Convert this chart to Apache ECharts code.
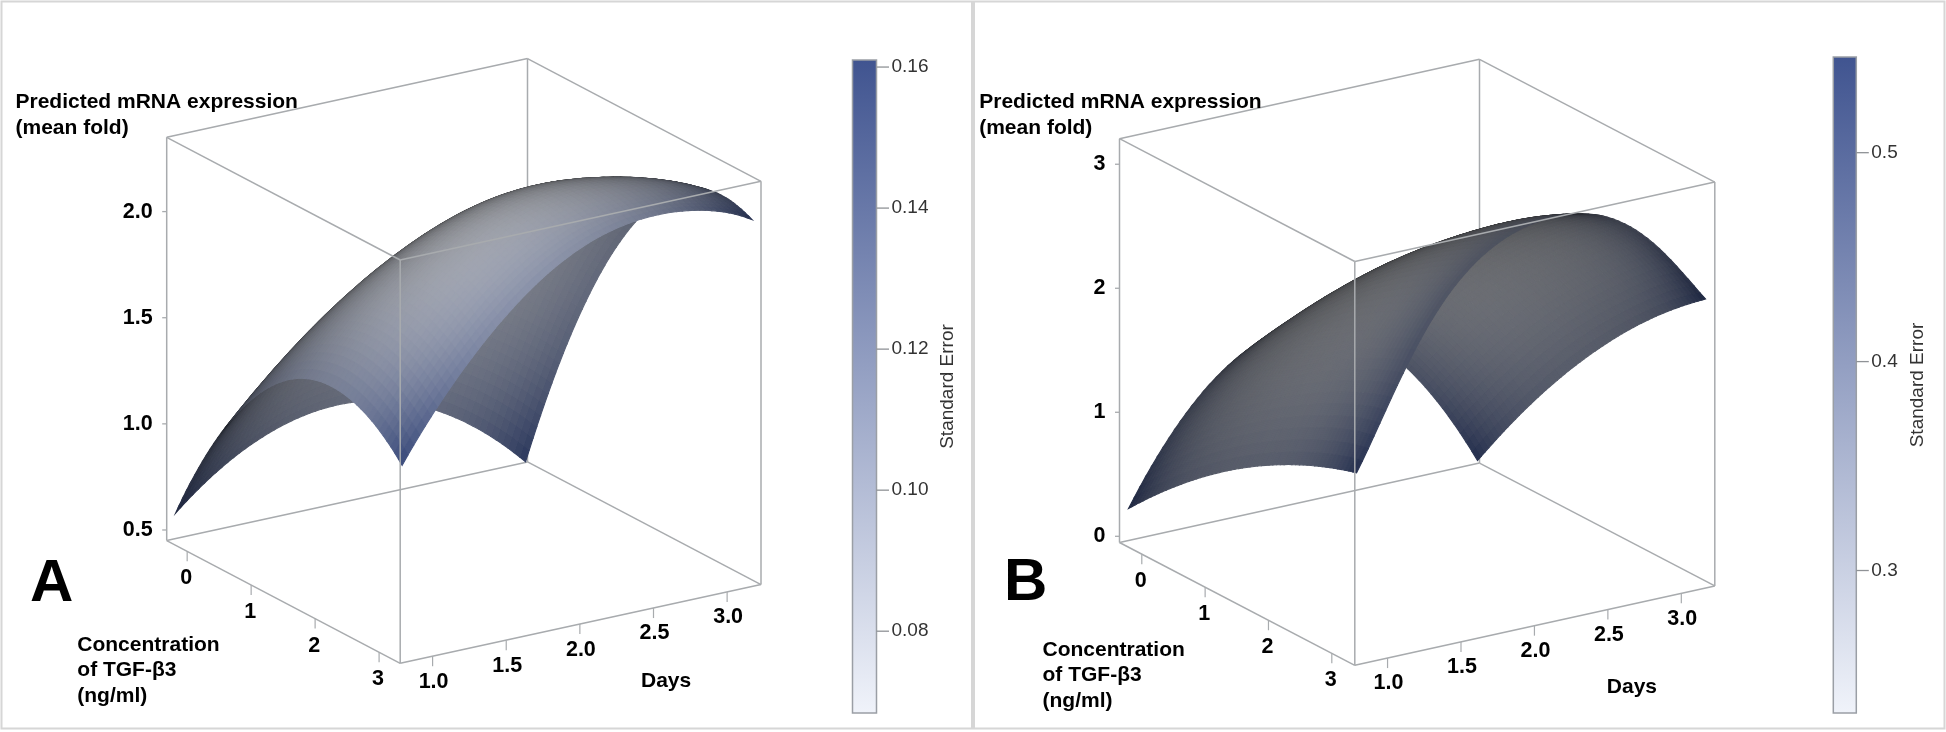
<!DOCTYPE html>
<html><head><meta charset="utf-8">
<style>html,body{margin:0;padding:0;background:#fff}#c{width:1946px;height:732px}</style>
<script src="https://cdn.jsdelivr.net/npm/echarts@6/dist/echarts.min.js"></script>
</head><body><div id="c"></div>
<script>
// ---------- data ----------
const concTicks=[0,1,2,3];
const dayTicks=[1.0,1.5,2.0,2.5,3.0];
const zTicksA=[0.5,1.0,1.5,2.0];
const zTicksB=[0,1,2,3];
const seTicksA=[0.08,0.10,0.12,0.14,0.16];
const seTicksB=[0.3,0.4,0.5];
const concGridA=[-0.265,0.325,0.915,1.505,2.095,2.685,3.275];
const dayGridA=[0.817,1.213,1.609,2.005,2.401,2.797,3.193];
const concGridB=[-0.295,0.300,0.895,1.505,2.100,2.700,3.305];
const dayGridB=[0.814,1.210,1.606,2.002,2.398,2.794,3.190];
// rows: day, columns: concentration
const mrnaA=[
[0.583,1.001,1.303,1.492,1.565,1.524,1.368],
[0.786,1.235,1.568,1.786,1.887,1.872,1.742],
[0.899,1.380,1.743,1.989,2.117,2.127,2.020],
[0.924,1.436,1.828,2.101,2.248,2.275,2.201],
[0.860,1.403,1.824,2.118,2.280,2.325,2.280],
[0.707,1.281,1.730,2.048,2.235,2.300,2.270],
[0.465,1.070,1.546,1.893,2.113,2.203,2.166]];
const mrnaB=[
[0.230,0.539,0.808,1.036,1.223,1.370,1.477],
[0.900,1.242,1.544,1.807,2.031,2.216,2.362],
[1.287,1.660,1.994,2.290,2.547,2.766,2.946],
[1.390,1.794,2.159,2.475,2.750,2.990,3.170],
[1.209,1.644,2.038,2.380,2.680,2.940,3.150],
[0.744,1.209,1.630,2.005,2.330,2.620,2.850],
[-0.004,0.490,0.938,1.338,1.692,1.998,2.258]];
const seA=[
[0.160,0.122,0.108,0.105,0.108,0.122,0.160],
[0.122,0.093,0.083,0.081,0.083,0.093,0.122],
[0.108,0.083,0.074,0.072,0.074,0.083,0.108],
[0.105,0.081,0.072,0.070,0.072,0.081,0.105],
[0.108,0.083,0.074,0.072,0.074,0.083,0.108],
[0.122,0.093,0.083,0.081,0.083,0.093,0.122],
[0.160,0.122,0.108,0.105,0.108,0.122,0.160]];
const seB=[
[0.545,0.411,0.364,0.354,0.364,0.411,0.545],
[0.411,0.313,0.278,0.271,0.278,0.313,0.411],
[0.364,0.278,0.248,0.242,0.248,0.278,0.364],
[0.354,0.271,0.242,0.236,0.242,0.271,0.354],
[0.364,0.278,0.248,0.242,0.248,0.278,0.364],
[0.411,0.313,0.278,0.271,0.278,0.313,0.411],
[0.545,0.411,0.364,0.354,0.364,0.411,0.545]];

// ---------- layout of the two panels ----------
const FONT='"Liberation Sans",Arial,sans-serif';
const GREY='#a8abae';
const panels=[
 {name:'A',mrna:mrnaA,se:seA,concGrid:concGridA,dayGrid:dayGridA,zTicks:zTicksA,seTicks:seTicksA,
  L:[166.7,540.6],F:[400.2,663.3],R:[761,584.6],top:137.3,
  c:[-0.32,3.33],d:[0.78,3.23],z:[0.45,2.35],
  bar:{x:852.5,w:24,top:60,h:653,min:0.0684,max:0.161,gap:62,fmt:2},bright:0.88,back:0.82},
 {name:'B',mrna:mrnaB,se:seB,concGrid:concGridB,dayGrid:dayGridB,zTicks:zTicksB,seTicks:seTicksB,
  L:[1119.5,542.5],F:[1354.8,665.3],R:[1714.8,585.9],top:138.7,
  c:[-0.352,3.363],d:[0.777,3.228],z:[-0.05,3.206],
  bar:{x:1833.3,w:23,top:57,h:656,min:0.2318,max:0.5458,gap:52,fmt:1},bright:0.68,back:0.95}
];
const COLOR_LOW=[240,243,250], COLOR_HIGH=[64,84,144];
const VIEW=[0.788,-0.513,0.344];   // direction to the viewer in the unit cube

function lagr(xs,x){ // weights of a smooth curve through the read values
  const n=xs.length,w=[];
  for(let i=0;i<n;i++){let p=1;for(let j=0;j<n;j++)if(j!==i)p*=(x-j)/(i-j);w.push(p);}
  return w;
}
function sample(tbl,cf,df){ // cf,df in 0..6
  const wc=lagr(tbl[0],cf),wd=lagr(tbl,df);let s=0;
  for(let j=0;j<7;j++)for(let i=0;i<7;i++)s+=tbl[j][i]*wd[j]*wc[i];
  return s;
}
const N=60;
const series=[],grids=[],xAxes=[],yAxes=[];
function lineSeries(idx,items,renderer,extra){
  return Object.assign({type:'custom',xAxisIndex:idx,yAxisIndex:idx,coordinateSystem:'cartesian2d',
    silent:true,animation:false,clip:false,progressive:0,data:items,renderItem:renderer,tooltip:{show:false}},extra||{});
}
panels.forEach((p,k)=>{
  const gi=k*2;
  const W=p.R[0]-p.L[0], Hh=p.L[1]-p.top;
  grids.push({left:p.L[0],top:p.top,width:W,height:Hh,containLabel:false});
  xAxes.push({type:'value',gridIndex:gi,min:0,max:1,show:false});
  yAxes.push({type:'value',gridIndex:gi,min:p.z[0],max:p.z[1],position:'left',
    axisLine:{show:false},splitLine:{show:false},axisTick:{show:false},
    axisLabel:{show:true,margin:14,customValues:p.zTicks,
      formatter:v=>(p.name==='A'?v.toFixed(1):String(Math.round(v))),
      fontFamily:FONT,fontWeight:'bold',fontSize:21.5,color:'#000'}});
  const zs=(p.z[1]-p.z[0])/Hh;   // data units of z per pixel
  const vecU=[p.F[0]-p.L[0],p.F[1]-p.L[1]], vecV=[p.R[0]-p.F[0],p.R[1]-p.F[1]];
  const proj=(c,d,z,api)=>{
    const u=(c-p.c[0])/(p.c[1]-p.c[0]), v=(d-p.d[0])/(p.d[1]-p.d[0]);
    return api.coord([(u*vecU[0]+v*vecV[0])/W, z-(u*vecU[1]+v*vecV[1])*zs]);
  };
  const [c0,c1]=p.c,[d0,d1]=p.d,[z0,z1]=p.z;
  const edgesBack=[[[c0,d0,z0],[c0,d1,z0]],[[c0,d1,z0],[c1,d1,z0]],[[c0,d1,z0],[c0,d1,z1]],
                   [[c0,d0,z1],[c0,d1,z1]],[[c0,d1,z1],[c1,d1,z1]],
                   [[c0,d0,z0],[c0,d0,z1]],[[c1,d1,z0],[c1,d1,z1]]];
  const edgesFront=[[[c0,d0,z0],[c1,d0,z0]],[[c1,d0,z0],[c1,d1,z0]],[[c1,d0,z0],[c1,d0,z1]],
                    [[c0,d0,z1],[c1,d0,z1]],[[c1,d0,z1],[c1,d1,z1]]];
  const edgeRender=list=>(params,api)=>{
    const e=list[params.dataIndex],a=proj(...e[0],api),b=proj(...e[1],api);
    return {type:'line',shape:{x1:a[0],y1:a[1],x2:b[0],y2:b[1]},style:{stroke:GREY,lineWidth:1.5}};
  };
  series.push(lineSeries(gi,edgesBack.map((e,i)=>[i]),edgeRender(edgesBack)));
  // vertical axis ticks
  series.push(lineSeries(gi,p.zTicks.map(t=>[t]),(params,api)=>{
    const q=api.coord([0,api.value(0)]);
    return {type:'line',shape:{x1:q[0]-4.5,y1:q[1],x2:q[0],y2:q[1]},style:{stroke:GREY,lineWidth:1.3}};
  }));
  // surface
  const cells=[];
  for(let ci=0;ci<N;ci++)for(let dj=N-1;dj>=0;dj--)cells.push([ci,dj]);
  const bar=p.bar;
  const verts=[];
  for(let i=0;i<=N;i++){verts.push([]);for(let j=0;j<=N;j++)verts[i].push({
      c:p.concGrid[0]+(p.concGrid[6]-p.concGrid[0])*i/N,
      d:p.dayGrid[0]+(p.dayGrid[6]-p.dayGrid[0])*j/N,
      z:sample(p.mrna,i*6/N,j*6/N)});}
  series.push(lineSeries(gi,cells,(params,api)=>{
    const ci=api.value(0),dj=api.value(1);
    const a=verts[ci][dj],b=verts[ci+1][dj],c=verts[ci+1][dj+1],d=verts[ci][dj+1];
    const pts=[a,b,c,d].map(q=>proj(q.c,q.d,q.z,api));
    const fu=((b.z+c.z-a.z-d.z)/2)/(z1-z0)*N*(c1-c0)/((p.concGrid[6]-p.concGrid[0]));
    const fv=((c.z+d.z-a.z-b.z)/2)/(z1-z0)*N*(d1-d0)/((p.dayGrid[6]-p.dayGrid[0]));
    const nn=Math.sqrt(fu*fu+fv*fv+1);
    const dot=(-fu*VIEW[0]-fv*VIEW[1]+VIEW[2])/nn;
    const se=sample(p.se,(ci+.5)*6/N,(dj+.5)*6/N);
    const t=Math.max(0,Math.min(1,(se-bar.min)/(bar.max-bar.min)));
    const base=COLOR_LOW.map((l,i)=>l+(COLOR_HIGH[i]-l)*t);
    const abs=Math.abs(dot);
    const shade=(0.28+0.72*Math.pow(abs,0.55))*p.bright*(dot>0?1:p.back);
    const col=base.map(v=>Math.round(v*shade));
    const css='rgb('+col.join(',')+')';
    return {type:'polygon',shape:{points:pts},style:{fill:css,stroke:css,lineWidth:1.1}};
  }));
  series.push(lineSeries(gi,edgesFront.map((e,i)=>[i]),edgeRender(edgesFront)));
  // oblique axis ticks with labels
  const tickItems=[];
  concTicks.forEach(t=>tickItems.push({kind:'c',val:t,text:String(t)}));
  dayTicks.forEach(t=>tickItems.push({kind:'d',val:t,text:t.toFixed(1)}));
  series.push(lineSeries(gi,tickItems.map((e,i)=>[i]),(params,api)=>{
    const it=tickItems[params.dataIndex];
    const q=it.kind==='c'?proj(it.val,d0,z0,api):proj(c1,it.val,z0,api);
    return {type:'group',children:[
      {type:'line',shape:{x1:q[0],y1:q[1],x2:q[0],y2:q[1]+10},style:{stroke:GREY,lineWidth:1.2}},
      {type:'text',x:q[0]+(it.kind==='c'?-1:1),y:q[1]+(it.kind==='c'?27:25.5),
        style:{text:it.text,fontFamily:FONT,fontWeight:'bold',fontSize:21.5,fill:'#000',align:'center',verticalAlign:'middle'}}
    ]};
  }));
  // colour bar
  const bi=gi+1;
  grids.push({left:bar.x,top:bar.top,width:bar.w,height:bar.h,containLabel:false});
  xAxes.push({type:'value',gridIndex:bi,min:0,max:1,show:false});
  yAxes.push({type:'value',gridIndex:bi,min:bar.min,max:bar.max,position:'right',
    name:'Standard Error',nameLocation:'middle',nameGap:bar.gap,nameRotate:90,
    nameTextStyle:{fontFamily:FONT,fontSize:19,color:'#333'},
    axisLine:{show:false},splitLine:{show:false},axisTick:{show:false},
    axisLabel:{show:true,margin:15,customValues:p.seTicks,formatter:v=>v.toFixed(bar.fmt),
      fontFamily:FONT,fontSize:19,color:'#333'}});
  series.push(lineSeries(bi,[[0]],(params,api)=>{
    const a=api.coord([0,bar.max]),b=api.coord([1,bar.min]);
    return {type:'rect',shape:{x:a[0],y:a[1],width:b[0]-a[0],height:b[1]-a[1]},
      style:{stroke:'#9a9ea5',lineWidth:1.5,
        fill:new echarts.graphic.LinearGradient(0,0,0,1,[
          {offset:0,color:'rgb('+COLOR_HIGH.join(',')+')'},{offset:1,color:'rgb('+COLOR_LOW.join(',')+')'}])}};
  }));
  series.push(lineSeries(bi,p.seTicks.map(t=>[t]),(params,api)=>{
    const q=api.coord([1,api.value(0)]);
    return {type:'line',shape:{x1:q[0],y1:q[1],x2:q[0]+12.5,y2:q[1]},style:{stroke:'#8f9296',lineWidth:1.3}};
  }));
});
const T=(x,y,text,size,extra)=>({type:'text',x,y,silent:true,z:50,style:Object.assign({text,fontFamily:FONT,fontWeight:'bold',
    fontSize:size,fill:'#000',align:'left',verticalAlign:'middle'},extra||{})});
const frame=(x,y,w,h)=>({type:'rect',silent:true,z:-1,shape:{x,y,width:w,height:h},style:{fill:'none',stroke:'#d6d6d6',lineWidth:2}});
const graphic=[
  frame(1.5,1.5,970.5,727),frame(974,1.5,970.5,727),
  T(15.5,102.5,'Predicted mRNA expression',21),T(15.5,128,'(mean fold)',21),
  T(77.3,645,'Concentration',21),T(77.3,670.7,'of TGF-β3',21),T(77.3,696.7,'(ng/ml)',21),
  T(641,681.6,'Days',21),T(30,584.7,'A',60),
  T(979.2,102.5,'Predicted mRNA expression',21),T(979.2,128,'(mean fold)',21),
  T(1042.5,650.3,'Concentration',21),T(1042.5,675.5,'of TGF-β3',21),T(1042.5,701.7,'(ng/ml)',21),
  T(1606.8,687.2,'Days',21),T(1004,583.6,'B',60)
];
const chart=echarts.init(document.getElementById('c'),null,{renderer:'canvas'});
chart.setOption({animation:false,backgroundColor:'#fff',grid:grids,xAxis:xAxes,yAxis:yAxes,series,graphic});
</script></body></html>
